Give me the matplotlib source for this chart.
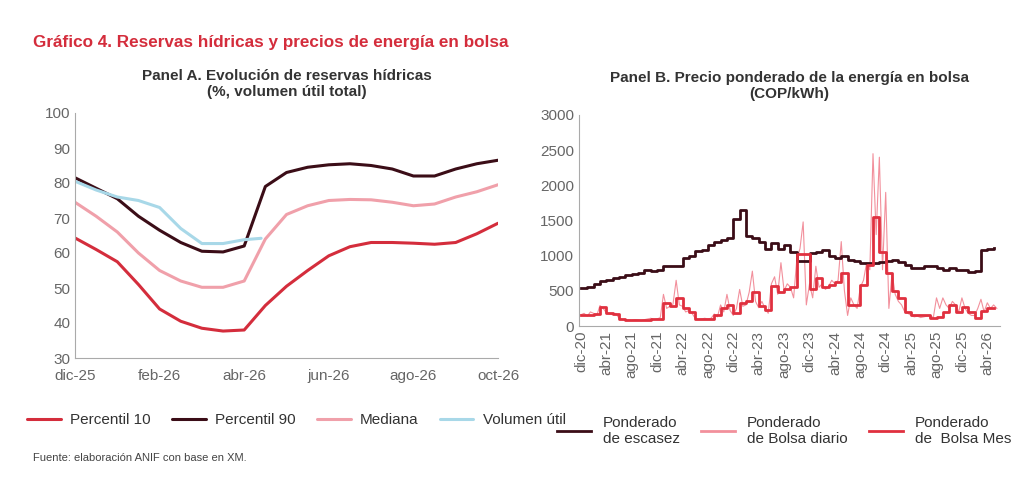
import matplotlib
matplotlib.use("Agg")
import matplotlib.pyplot as plt
import numpy as np

plt.rcParams['font.family'] = ['Liberation Sans', 'DejaVu Sans']

# Panel A (months since dic-25, half-month steps)
a_x = [i * 0.5 for i in range(21)]
p10 = [64.3, 61, 57.5, 51, 44, 40.5, 38.5, 37.7, 38.0, 45, 50.5, 55, 59.2, 61.8, 63, 63, 62.8, 62.5, 63, 65.5, 68.5]
p90 = [81.5, 78.5, 75.5, 70.5, 66.5, 63, 60.5, 60.3, 62, 79, 83, 84.5, 85.2, 85.5, 85, 84, 82, 82, 84, 85.5, 86.5]
mediana = [74.5, 70.5, 66, 60, 55, 52, 50.2, 50.2, 52, 64, 71, 73.5, 75, 75.3, 75.2, 74.5, 73.5, 74, 76, 77.5, 79.5]
vol_x = [0, 0.5, 1, 1.5, 2, 2.5, 3, 3.5, 4, 4.4]
vol = [80.5, 78, 76, 75, 73, 67, 62.7, 62.7, 63.8, 64.2]
a_ticks = [0, 2, 4, 6, 8, 10]
a_labels = ['dic-25', 'feb-26', 'abr-26', 'jun-26', 'ago-26', 'oct-26']

# Panel B (monthly from dic-20)
escasez = [540, 560, 600, 640, 660, 680, 700, 720, 740, 760, 790, 780, 800, 850, 850, 850, 970, 1000,
           1060, 1080, 1150, 1200, 1220, 1250, 1520, 1650, 1280, 1250, 1200, 1100, 1180, 1100, 1150, 1050,
           920, 930, 1040, 1050, 1080, 1000, 970, 990, 940, 920, 900, 890, 900, 910, 920, 940, 910, 870,
           830, 830, 860, 850, 820, 800, 820, 790, 790, 770, 780, 1080, 1090, 1110]
bolsa_mes = [150, 150, 170, 270, 180, 170, 100, 80, 80, 80, 90, 100, 100, 330, 290, 400, 250, 200, 100,
             100, 100, 150, 250, 300, 180, 330, 350, 480, 280, 230, 570, 480, 520, 550, 1030, 1030, 520,
             680, 560, 590, 620, 760, 300, 300, 580, 870, 1550, 1050, 750, 500, 400, 200, 150, 150, 150,
             120, 130, 200, 300, 200, 270, 200, 120, 220, 260, 250]
bolsa_diario = [160, 180, 140, 200, 180, 150, 290, 250, 190, 170, 160, 180, 110, 90, 80, 85, 80, 90,
                85, 75, 90, 100, 110, 90, 100, 120, 450, 250, 280, 310, 650, 300, 280, 200, 220, 180,
                110, 90, 100, 110, 100, 110, 170, 130, 300, 200, 450, 220, 150, 250, 520, 280, 300, 480,
                780, 350, 260, 350, 250, 180, 600, 700, 450, 900, 500, 600, 550, 400, 950, 1100, 1480, 300,
                600, 400, 850, 550, 600, 520, 560, 650, 600, 650, 1200, 500, 150, 400, 300, 250, 550, 650,
                900, 800, 2450, 1300, 2400, 800, 1900, 250, 750, 450, 350, 300, 200, 180, 150, 130, 140, 120,
                130, 140, 150, 120, 400, 250, 400, 300, 250, 350, 300, 200, 400, 250, 180, 150, 150, 250,
                380, 200, 330, 250, 300, 250]
b_labels = ['dic-20', 'abr-21', 'ago-21', 'dic-21', 'abr-22', 'ago-22', 'dic-22', 'abr-23', 'ago-23',
            'dic-23', 'abr-24', 'ago-24', 'dic-24', 'abr-25', 'ago-25', 'dic-25', 'abr-26']
b_ticks = [4 * i for i in range(len(b_labels))]

C_P10 = '#d42d3c'
C_P90 = '#3b0d17'
C_MED = '#f0a0aa'
C_VOL = '#a8d8e8'
C_DIA = '#f2909c'
C_MES = '#e0303f'
GREY = '#666666'

fig = plt.figure(figsize=(10.24, 4.82), dpi=100)
fig.text(33 / 1024, 1 - 42 / 482, 'Gráfico 4. Reservas hídricas y precios de energía en bolsa',
         color='#d42d3c', fontsize=12.3, fontweight='bold', va='center')
fig.text(33 / 1024, 1 - 458 / 482, 'Fuente: elaboración ANIF con base en XM.', fontsize=8, color='#444444', va='center')

def style(ax):
    for s in ['top', 'right']:
        ax.spines[s].set_visible(False)
    for s in ['left', 'bottom']:
        ax.spines[s].set_color('#aaaaaa')
    ax.tick_params(length=0, colors=GREY, labelsize=11)

axA = fig.add_axes([75 / 1024, 1 - 358 / 482, (498 - 75) / 1024, (358 - 113) / 482])
style(axA)
kw = dict(lw=2.2, solid_joinstyle='round', solid_capstyle='round')
axA.plot(a_x, p10, color=C_P10, label='Percentil 10', **kw)
axA.plot(a_x, p90, color=C_P90, label='Percentil 90', **kw)
axA.plot(a_x, mediana, color=C_MED, label='Mediana', **kw)
axA.plot(vol_x, vol, color=C_VOL, label='Volumen útil', **kw)
axA.set_xlim(0, 10)
axA.set_ylim(30, 100)
axA.set_yticks(range(30, 101, 10))
axA.set_xticks(a_ticks)
axA.set_xticklabels(a_labels)
axA.tick_params(axis='x', pad=8)
axA.set_title('Panel A. Evolución de reservas hídricas\n(%, volumen útil total)', fontsize=11,
              fontweight='bold', color='#333333', pad=12)
axA.legend(loc='upper left', bbox_to_anchor=(-0.145, -0.17), ncol=4, frameon=False, fontsize=11,
           handlelength=2.2, columnspacing=1.4, handletextpad=0.6, labelcolor='#333333')

axB = fig.add_axes([579 / 1024, 1 - 326 / 482, (1000 - 579) / 1024, (326 - 115) / 482])
style(axB)
mx = np.arange(len(escasez))
dx = np.arange(len(bolsa_diario)) * 0.5
axB.plot(dx, bolsa_diario, color=C_DIA, lw=0.8, label='Ponderado\nde Bolsa diario')
axB.step(mx, escasez, where='post', color=C_P90, lw=2, label='Ponderado\nde escasez')
axB.step(mx, bolsa_mes, where='post', color=C_MES, lw=2, label='Ponderado\nde  Bolsa Mes')
axB.set_xlim(-0.3, 66)
axB.set_ylim(0, 3000)
axB.set_yticks(range(0, 3001, 500))
axB.set_xticks(b_ticks)
axB.set_xticklabels(b_labels, rotation=90)
axB.set_title('Panel B. Precio ponderado de la energía en bolsa\n(COP/kWh)', fontsize=11,
              fontweight='bold', color='#333333', pad=12)
h, l = axB.get_legend_handles_labels()
order = [1, 0, 2]
leg = axB.legend([h[i] for i in order], [l[i] for i in order], loc='upper left', bbox_to_anchor=(-0.085, -0.36),
                 ncol=3, frameon=False, fontsize=11, handlelength=2.2, columnspacing=1.4, labelcolor='#333333')
leg.get_lines()[1].set_linewidth(2)

fig.savefig('out.png', dpi=100)
